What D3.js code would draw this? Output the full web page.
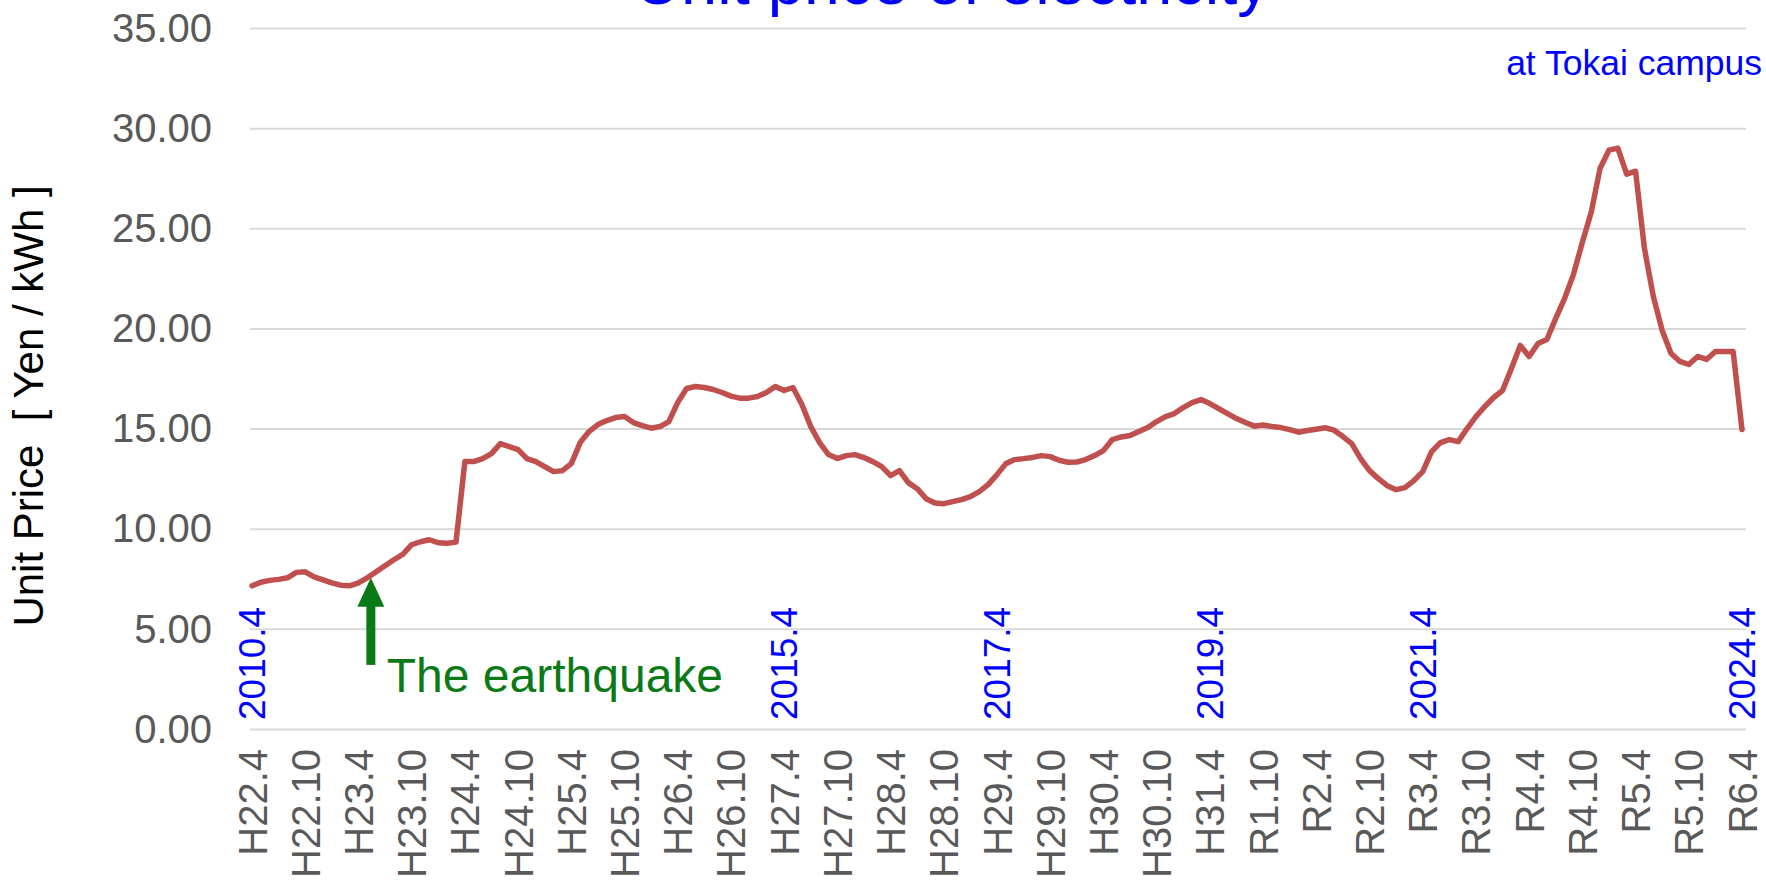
<!DOCTYPE html>
<html lang="en">
<head>
<meta charset="UTF-8" />
<title>Unit price of electricity</title>
<script src="https://d3js.org/d3.v7.min.js"></script>
<style>
  body { margin: 0; background: #fff; }
  text { font-family: "Liberation Sans", Arial, Helvetica, sans-serif; }
</style>
</head>
<body>
<svg width="1766" height="890"></svg>
<script>
// monthly unit price [yen/kWh], one row per fiscal year (April..March), 2010.4 .. 2024.4
const unitPrice = [
  7.15, 7.33, 7.42, 7.47, 7.55, 7.82, 7.85, 7.6, 7.45, 7.3, 7.18, 7.15,
  7.3, 7.55, 7.85, 8.15, 8.45, 8.72, 9.2, 9.35, 9.45, 9.3, 9.27, 9.33,
  13.35, 13.35, 13.5, 13.75, 14.25, 14.1, 13.95, 13.5, 13.35, 13.1, 12.85, 12.9,
  13.25, 14.3, 14.85, 15.2, 15.4, 15.55, 15.6, 15.3, 15.15, 15.02, 15.1, 15.35,
  16.3, 17.0, 17.1, 17.05, 16.95, 16.8, 16.62, 16.52, 16.52, 16.6, 16.8, 17.1,
  16.9, 17.05, 16.2, 15.1, 14.3, 13.7, 13.5, 13.65, 13.7, 13.55, 13.35, 13.1,
  12.65, 12.9, 12.3, 12.0, 11.5, 11.28, 11.25, 11.35, 11.45, 11.6, 11.85, 12.2,
  12.7, 13.25, 13.45, 13.5, 13.56, 13.65, 13.6, 13.42, 13.32, 13.33, 13.45, 13.65,
  13.9, 14.45, 14.58, 14.65, 14.85, 15.05, 15.35, 15.6, 15.75, 16.05, 16.3, 16.45,
  16.25, 16.0, 15.75, 15.5, 15.3, 15.12, 15.18, 15.1, 15.05, 14.95, 14.82, 14.9,
  14.97, 15.04, 14.92, 14.6, 14.25, 13.5, 12.9, 12.5, 12.15, 11.95, 12.05, 12.4,
  12.85, 13.85, 14.3, 14.45, 14.35, 15.0, 15.6, 16.1, 16.55, 16.9, 18.0, 19.15,
  18.6, 19.25, 19.45, 20.5, 21.5, 22.7, 24.3, 25.8, 28.0, 28.9, 29.0, 27.7,
  27.85, 24.0, 21.6, 19.9, 18.75, 18.35, 18.2, 18.6, 18.45, 18.85, 18.85, 18.85,
  14.95
];

// category labels shown every 6 months
const tickLabels = [
  "H22.4", "H22.10", "H23.4", "H23.10", "H24.4", "H24.10", "H25.4", "H25.10",
  "H26.4", "H26.10", "H27.4", "H27.10", "H28.4", "H28.10", "H29.4", "H29.10",
  "H30.4", "H30.10", "H31.4", "R1.10", "R2.4", "R2.10", "R3.4", "R3.10",
  "R4.4", "R4.10", "R5.4", "R5.10", "R6.4"
];

// western year markers and the month they point to
const yearMarks = ["2010.4", "2015.4", "2017.4", "2019.4", "2021.4", "2024.4"];
const yearMarkMonth = [0, 60, 84, 108, 132, 168];

const yTicks = [0, 5, 10, 15, 20, 25, 30, 35];

// the earthquake annotation (month index, price)
const quakeMonth = 13.4;
const quakeArrow = [7.55, 3.2];

const svg = d3.select("svg");
const plotLeft = 250, plotRight = 1746, plotTop = 28, plotBottom = 729;

const x = d3.scaleLinear().domain([0, unitPrice.length - 1]).range([252, 1742]);
const y = d3.scaleLinear().domain([0, 35]).range([plotBottom, plotTop]);

// gridlines + y labels
const yAxis = svg.append("g")
  .attr("transform", `translate(${plotLeft},0)`)
  .call(d3.axisLeft(y).tickValues(yTicks).tickFormat(d3.format(".2f"))
    .tickSize(-(plotRight - plotLeft)).tickPadding(38));
yAxis.select(".domain").remove();
yAxis.selectAll("line").attr("stroke", "#d9d9d9").attr("stroke-width", 2);
yAxis.selectAll("text")
  .attr("fill", "#595959")
  .style("font-size", "40px")
  .attr("dy", "0.33em");

// x labels, rotated
const xAxis = svg.append("g")
  .attr("transform", `translate(0,${plotBottom})`)
  .call(d3.axisBottom(x)
    .tickValues(tickLabels.map((d, i) => i * 6))
    .tickFormat((d, i) => tickLabels[i])
    .tickSize(0));
xAxis.select(".domain").remove();
xAxis.selectAll("text")
  .attr("fill", "#595959")
  .style("font-size", "40px")
  .attr("transform", "rotate(-90)")
  .attr("text-anchor", "end")
  .attr("x", -20)
  .attr("y", 0)
  .attr("dy", "0.35em");

// price line
svg.append("path")
  .datum(unitPrice)
  .attr("fill", "none")
  .attr("stroke", "#c0504d")
  .attr("stroke-width", 5.5)
  .attr("stroke-linejoin", "round")
  .attr("stroke-linecap", "round")
  .attr("d", d3.line().x((d, i) => x(i)).y(d => y(d)));

// year markers
svg.append("g")
  .selectAll("text")
  .data(yearMarks)
  .join("text")
  .attr("transform", (d, i) => `translate(${x(yearMarkMonth[i])},720) rotate(-90)`)
  .attr("dy", "0.35em")
  .attr("fill", "#0000ff")
  .style("font-size", "37px")
  .text(d => d);

// earthquake arrow
const ax = x(quakeMonth);
const tipY = y(quakeArrow[0]), tailY = y(quakeArrow[1]);
svg.append("line")
  .attr("x1", ax).attr("x2", ax)
  .attr("y1", tipY + 20).attr("y2", tailY)
  .attr("stroke", "#0a7a16").attr("stroke-width", 9);
svg.append("path")
  .attr("d", `M${ax},${tipY} L${ax - 13.5},${tipY + 29} L${ax + 13.5},${tipY + 29} Z`)
  .attr("fill", "#0a7a16");
svg.append("text")
  .attr("x", x(quakeMonth + 1.8))
  .attr("y", y(1.85))
  .attr("fill", "#0a7a16")
  .style("font-size", "48px")
  .text("The earthquake");

// title (cut off at the top edge, as in the original) and subtitle
svg.append("text")
  .attr("x", 952).attr("y", 4)
  .attr("text-anchor", "middle")
  .attr("fill", "#0000ff")
  .style("font-size", "65px")
  .text("Unit price of electricity");
svg.append("text")
  .attr("x", 1762).attr("y", 75)
  .attr("text-anchor", "end")
  .attr("fill", "#0000ff")
  .style("font-size", "35.5px")
  .text("at Tokai campus");

// y axis title
svg.append("text")
  .attr("transform", "translate(43,406) rotate(-90)")
  .attr("text-anchor", "middle")
  .attr("fill", "#000")
  .style("font-size", "42px")
  .style("white-space", "pre")
  .text("Unit Price  [ Yen / kWh ]");
</script>
</body>
</html>
